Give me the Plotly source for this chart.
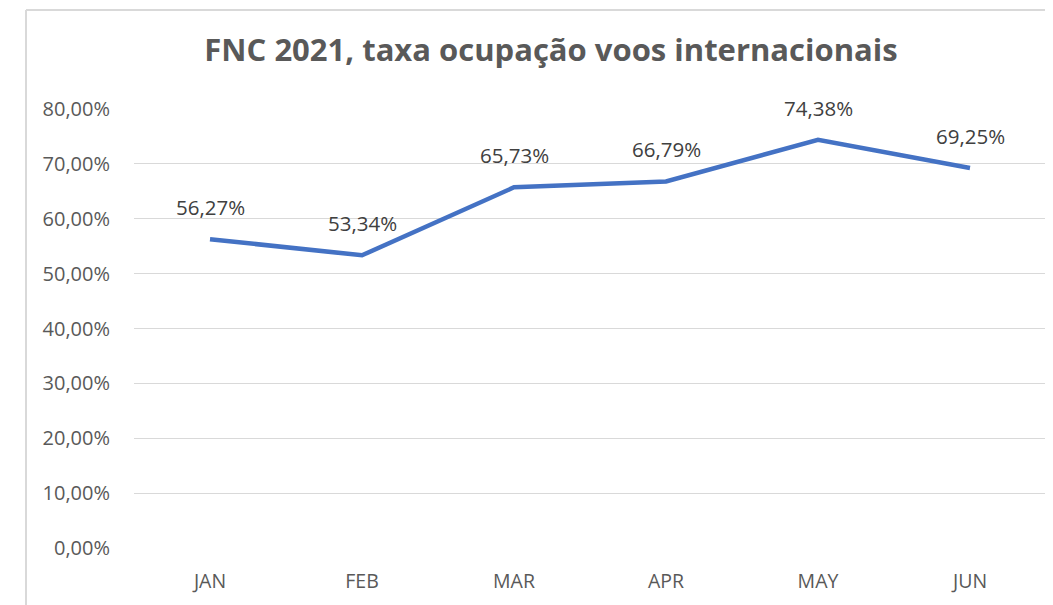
import plotly.graph_objects as go

months = ["JAN", "FEB", "MAR", "APR", "MAY", "JUN"]
rates = [56.27, 53.34, 65.73, 66.79, 74.38, 69.25]
rate_labels = ["56,27%", "53,34%", "65,73%", "66,79%", "74,38%", "69,25%"]
y_ticks = [0, 10, 20, 30, 40, 50, 60, 70, 80]
y_tick_labels = ["0,00%", "10,00%", "20,00%", "30,00%", "40,00%", "50,00%", "60,00%", "70,00%", "80,00%"]

FONT = "Open Sans"
W, H = 1045, 597  # page body margin of 8px is added by the browser

fig = go.Figure()
fig.add_trace(go.Scatter(
    x=months, y=rates, mode="lines",
    line=dict(color="#4472C4", width=4.5),
    hoverinfo="skip",
))

for m, v, t in zip(months, rates, rate_labels):
    fig.add_annotation(x=m, y=v, text=t, showarrow=False, yshift=32,
                       font=dict(family=FONT, size=20.5, color="#404040"))

fig.update_layout(
    width=W, height=H,
    paper_bgcolor="white", plot_bgcolor="white",
    margin=dict(l=126, r=7, t=101, b=57),
    showlegend=False,
    title=dict(text="<b>FNC 2021, taxa ocupação voos internacionais</b>",
               x=543 / W, xanchor="center", xref="container",
               y=1 - 42 / H, yanchor="middle", yref="container",
               font=dict(family=FONT, size=31, color="#595959")),
    xaxis=dict(showgrid=False, showline=False, zeroline=False, ticks="",
               range=[-0.5, 5.5],
               tickfont=dict(family=FONT, size=19.5, color="#595959"),
               ticklabelstandoff=19),
    yaxis=dict(range=[0, 80], tickvals=y_ticks, ticktext=y_tick_labels,
               showgrid=True, gridcolor="#D9D9D9", gridwidth=1.3,
               zeroline=False, showline=False, ticks="",
               ticklabelstandoff=23,
               tickfont=dict(family=FONT, size=20, color="#595959")),
)

# chart frame (Excel-style border)
fx = (18 - 126) / 912
fy = 1 + (101 - 2) / 439
fig.add_shape(type="line", xref="paper", yref="paper",
              x0=fx, x1=fx, y0=-0.2, y1=fy,
              line=dict(color="#D9D9D9", width=2))
fig.add_shape(type="line", xref="paper", yref="paper",
              x0=fx, x1=1.05, y0=fy, y1=fy,
              line=dict(color="#D9D9D9", width=2))

fig.write_html("out.html")
